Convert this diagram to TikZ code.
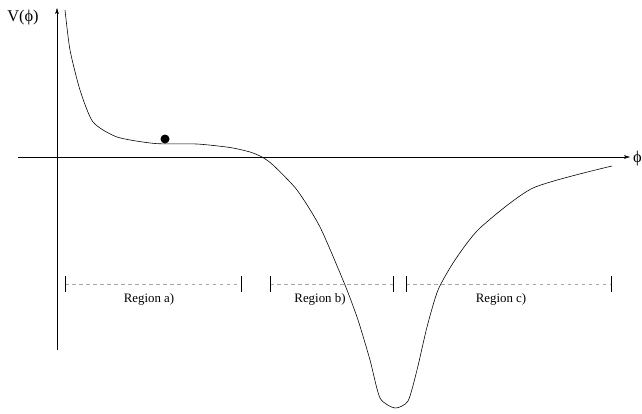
\documentclass[tikz,border=0pt]{standalone}
\usepackage{fontspec}
\setmainfont{Liberation Serif}
\usepackage{tikz}
\usetikzlibrary{arrows.meta}

\tikzset{
  regiontick/.style={thin},
  regionline/.style={gray!70, dashed, thin},
  regionlabel/.style={font=\fontsize{11}{13}\selectfont, inner sep=0pt},
  axislabel/.style={font=\fontsize{14}{16}\selectfont, inner sep=0pt}
}

\begin{document}
\begin{tikzpicture}[x=0.03cm, y=-0.03cm, thin]
            \useasboundingbox (0,0) rectangle (642,413);

            % Axis
            \coordinate (yb) at (57,350);
            \coordinate (yt) at (57,8);
            \coordinate (xl) at (18,157);
            \coordinate (xr) at (630,157);
            \draw[-{Stealth[length=5pt,width=3pt,inset=1pt]}] (yb) -- (yt);
            \draw[-{Stealth[length=5pt,width=3pt,inset=1pt]}] (xl) -- (xr);
            \node[axislabel] (vlabel) at (23,18) {V(ϕ)};
            \node[axislabel, anchor=west] (philabel) at (633,159) {ϕ};

            % Potential
            \draw[line width=0.5pt] plot[smooth, tension=0.4] coordinates {
              (65,10) (70,50) (80,90) (93,122) (117,137) (155,143.5) (197,144)
              (230,147.5) (250,152) (262,157) (273,165) (297,190) (320,227) (345,285)
              (358,320) (370,360) (380,398) (395,408) (408,401) (417,370)
              (427,327) (438,290) (455,260) (480,228) (533,188) (612,166)
            };

            % Ball
            \node[circle, fill=black, inner sep=0pt, minimum size=0.27cm] (ball) at (165,139) {};

            % Regions
            \foreach \a/\b/\c/\n/\t in {65/241/149/ra/Region a), 270/393/320/rb/Region b), 406/611/501/rc/Region c)} {
              \coordinate (\n l) at (\a,284);
              \coordinate (\n r) at (\b,284);
              \draw[regionline] (\n l) -- (\n r);
              \draw[regiontick] ([yshift=-0.24cm]\n l) -- ([yshift=0.24cm]\n l);
              \draw[regiontick] ([yshift=-0.24cm]\n r) -- ([yshift=0.24cm]\n r);
              \node[regionlabel] (\n text) at (\c,299) {\t};
            }

        \end{tikzpicture}
\end{document}
